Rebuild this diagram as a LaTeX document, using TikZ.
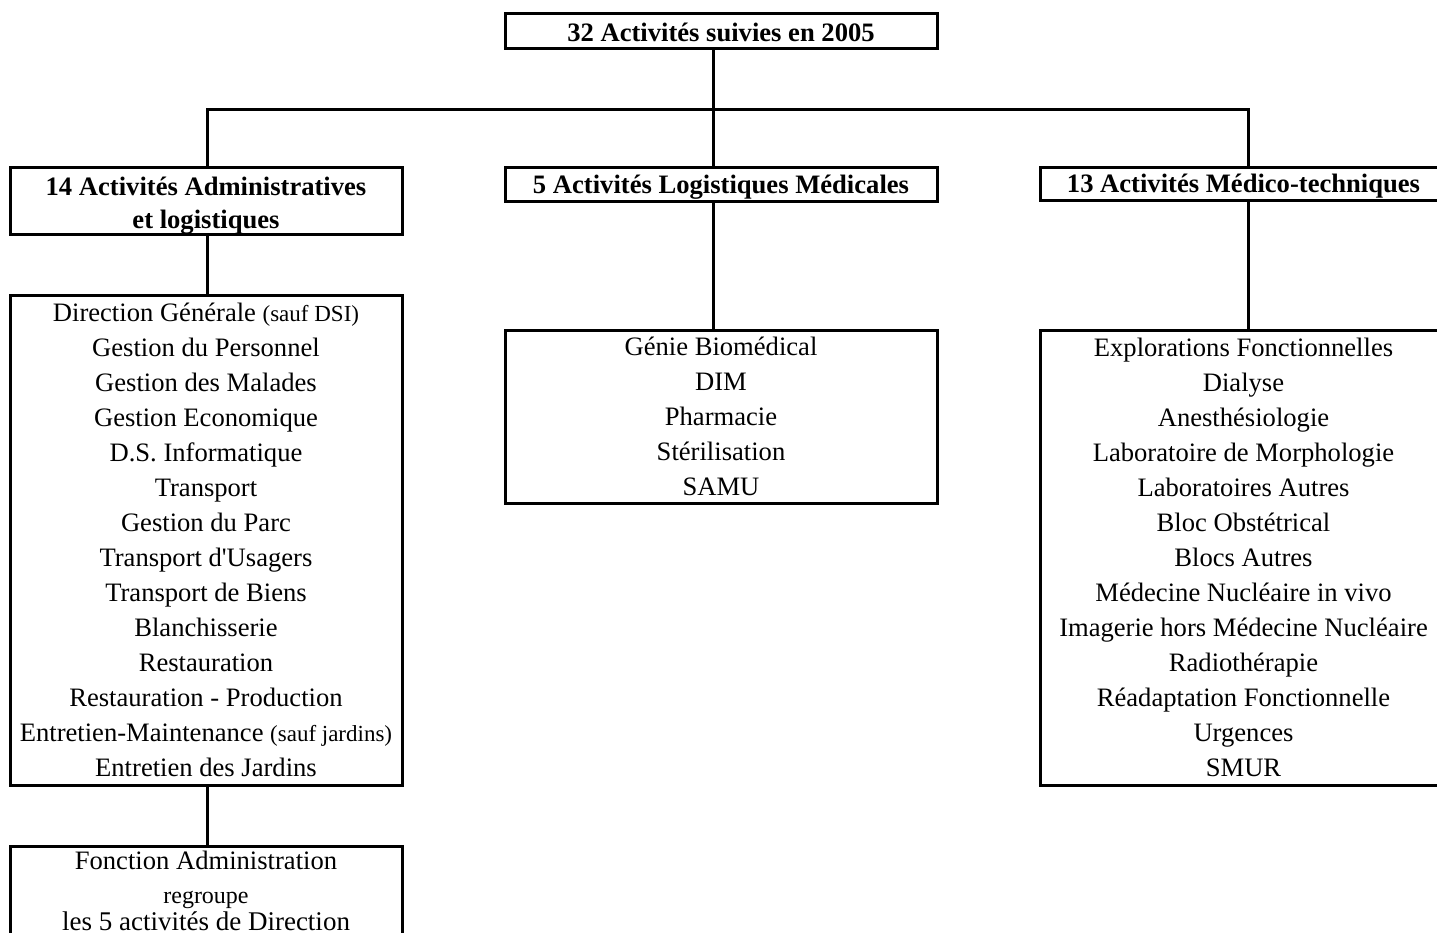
\documentclass[tikz,border=0pt]{standalone}
\usepackage{fontspec}
\setmainfont{Liberation Serif}[Ligatures=TeXOff]
\begin{document}
\begin{tikzpicture}[x=1pt,y=-1pt,
  box/.style={draw, line width=3pt, inner sep=0pt, align=center,
    font=\fontsize{26.6}{35}\selectfont},
  head/.style={box, font=\fontsize{26.6}{33}\selectfont\bfseries, text depth=0pt},
  htext/.style={anchor=base, inner sep=0pt, font=\fontsize{26.6}{33}\selectfont\bfseries},
  link/.style={line width=3pt, line join=miter}]
\clip (0,0) rectangle (1437,933);
\fill[white] (0,0) rectangle (1437,933);

\node[head, minimum width=432, minimum height=35, text height=21pt] (top) at (721,31.5) {32 Activités suivies en 2005};

\node[draw, line width=3pt, minimum width=392, minimum height=67] (ladm) at (206,201.5) {};
\node[htext] (ladm1) at (206,196) {14 Activités Administratives};
\node[htext] (ladm2) at (206,228.5) {et logistiques};
\node[head, minimum width=432, minimum height=34, text height=17pt] (lmed) at (721,185) {5 Activités Logistiques Médicales};
\node[head, minimum width=407, minimum height=33, text height=17pt] (ltech) at (1243.5,184.5) {13 Activités Médico-techniques};

\node[box, minimum width=392, minimum height=490] (admlist) at (206,540) {%
Direction Générale {\fontsize{23}{35}\selectfont(sauf DSI)}\\
Gestion du Personnel\\
Gestion des Malades\\
Gestion Economique\\
D.S. Informatique\\
Transport\\
Gestion du Parc\\
Transport d'Usagers\\
Transport de Biens\\
Blanchisserie\\
Restauration\\
Restauration - Production\\
Entretien-Maintenance {\fontsize{23}{35}\selectfont(sauf jardins)}\\
Entretien des Jardins};

\node[box, minimum width=432, minimum height=173] (medlist) at (721,416.5) {%
Génie Biomédical\\
DIM\\
Pharmacie\\
Stérilisation\\
SAMU};

\node[box, minimum width=407, minimum height=455] (techlist) at (1243.5,557.5) {%
Explorations Fonctionnelles\\
Dialyse\\
Anesthésiologie\\
Laboratoire de Morphologie\\
Laboratoires Autres\\
Bloc Obstétrical\\
Blocs Autres\\
Médecine Nucléaire in vivo\\
Imagerie hors Médecine Nucléaire\\
Radiothérapie\\
Réadaptation Fonctionnelle\\
Urgences\\
SMUR};

\node[draw, line width=3pt, minimum width=392, minimum height=140, anchor=north] (fa) at (206,845) {};
\node[anchor=base, inner sep=0pt, font=\fontsize{26.6}{35}\selectfont] (fa1) at (206,869.5) {Fonction Administration};
\node[anchor=base, inner sep=0pt, font=\fontsize{24}{28}\selectfont] (fa2) at (206,903) {regroupe};
\node[anchor=base, inner sep=0pt, font=\fontsize{27}{28}\selectfont] (fa3) at (206,930) {les 5 activités de Direction};

\coordinate (busL) at (207,110);
\coordinate (busM) at (713,110);
\coordinate (busR) at (1248,110);

\draw[link] (top.south -| busM) -- (busM);
\draw[link] (ladm.north -| busL) |- (busR) -- (ltech.north -| busR);
\draw[link] (busM) -- (lmed.north -| busM);
\draw[link] (ladm.south -| busL) -- (admlist.north -| busL);
\draw[link] (lmed.south -| busM) -- (medlist.north -| busM);
\draw[link] (ltech.south -| busR) -- (techlist.north -| busR);
\draw[link] (admlist.south -| busL) -- (fa.north -| busL);
\end{tikzpicture}
\end{document}
